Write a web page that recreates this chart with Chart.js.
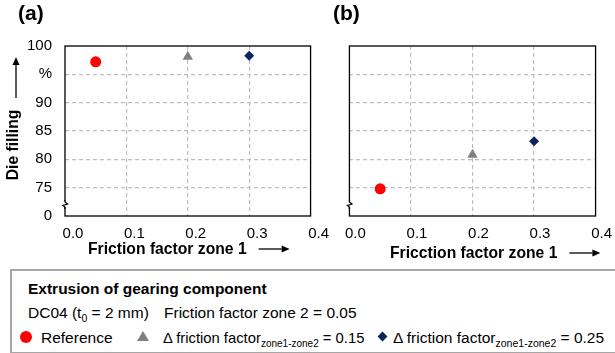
<!DOCTYPE html>
<html>
<head>
<meta charset="utf-8">
<script src="https://cdn.jsdelivr.net/npm/chart.js@4"></script>
<style>
  body { margin: 0; background: #fff; font-family: "Liberation Sans", Arial, sans-serif; color: #000; }
  #wrap { position: relative; width: 615px; height: 353px; overflow: hidden; }
  #ca { position: absolute; left: 0; top: 0; }
  #cb { position: absolute; left: 330px; top: 0; }
  #legend { position: absolute; left: 10px; top: 269px; width: 620px; height: 81px; border: 2px solid #a6a6a6; }
  .t { position: absolute; font-size: 15.5px; line-height: 16px; white-space: nowrap; }
  .s { font-size: 14.8px; }
  .s sub { font-size: 10px; }
  .b { font-weight: bold; }
  sub { font-size: 10.5px; vertical-align: -4px; line-height: 0; }
  .dot { position: absolute; width: 12px; height: 12px; border-radius: 50%; background: #ff0000; }
  .tri { position: absolute; width: 0; height: 0; border-left: 6px solid transparent; border-right: 6px solid transparent; border-bottom: 10px solid #808080; }
  .dia { position: absolute; width: 7px; height: 7px; background: #0b2560; transform: rotate(45deg); }
</style>
</head>
<body>
<div id="wrap">
  <canvas id="ca" width="330" height="265"></canvas>
  <canvas id="cb" width="285" height="265"></canvas>
  <div id="legend">
    <div class="t b" style="left:16px; top:10px;">Extrusion of gearing component</div>
    <div class="t" style="left:16px; top:34px;">DC04 (t<sub>0</sub> = 2 mm)</div>
    <div class="t" style="left:152px; top:34px;">Friction factor zone 2 = 0.05</div>
    <div class="dot" style="left:8px; top:60px;"></div>
    <div class="t" style="left:29px; top:59px;">Reference</div>
    <div class="tri" style="left:125px; top:60px;"></div>
    <div class="t s" style="left:151px; top:59px;">Δ friction factor<sub>zone1-zone2</sub> = 0.15</div>
    <div class="dia" style="left:367px; top:62px;"></div>
    <div class="t" style="left:381px; top:59px;">Δ friction factor<sub>zone1-zone2</sub> = 0.25</div>
  </div>
</div>
<script>
// friction factor zone 1 for each variant
const frictionZone1 = [0.05, 0.2, 0.3];
// die filling in %, panel (a) and (b)
const fillingA = [97.2, 98.1, 98.3];
const fillingB = [74.8, 80.8, 83.2];
const seriesNames = ["Reference", "Δ friction factor zone1-zone2 = 0.15", "Δ friction factor zone1-zone2 = 0.25"];
const seriesColors = ["#ff0000", "#808080", "#0b2560"];
const seriesStyles = ["circle", "triangle", "rectRot"];
const seriesSizes = [5.5, 6, 5];
// y axis is broken below 75, bottom tick shows "0", 95 shows the unit
const yTickValues = [70, 75, 80, 85, 90, 95, 100];
const yTickLabels = ["0", "75", "80", "85", "90", "%", "100"];
const xTickValues = [0, 0.1, 0.2, 0.3, 0.4];
const xTickLabels = ["0.0", "0.1", "0.2", "0.3", "0.4"];

const FONT = "Liberation Sans";

function makeDatasets(values) {
  return seriesNames.map((name, i) => ({
    label: name,
    data: [{ x: frictionZone1[i], y: values[i] }],
    pointStyle: seriesStyles[i],
    pointRadius: seriesSizes[i],
    pointHoverRadius: seriesSizes[i],
    backgroundColor: seriesColors[i],
    borderColor: seriesColors[i],
    borderWidth: 0,
    showLine: false,
  }));
}

function arrow(ctx, x1, y1, x2, y2) {
  const a = Math.atan2(y2 - y1, x2 - x1);
  const hl = 8, hw = 3.5;
  ctx.beginPath();
  ctx.moveTo(x1, y1);
  ctx.lineTo(x2 - Math.cos(a) * hl, y2 - Math.sin(a) * hl);
  ctx.lineWidth = 1.3;
  ctx.strokeStyle = "#000";
  ctx.stroke();
  ctx.beginPath();
  ctx.moveTo(x2, y2);
  ctx.lineTo(x2 - Math.cos(a) * hl - Math.sin(a) * hw, y2 - Math.sin(a) * hl + Math.cos(a) * hw);
  ctx.lineTo(x2 - Math.cos(a) * hl + Math.sin(a) * hw, y2 - Math.sin(a) * hl - Math.cos(a) * hw);
  ctx.closePath();
  ctx.fillStyle = "#000";
  ctx.fill();
}

// frame around plot area plus the axis break mark
const framePlugin = {
  id: "frame",
  beforeDatasetsDraw(chart) {
    const { ctx, chartArea: a } = chart;
    ctx.save();
    ctx.strokeStyle = "#000";
    ctx.lineWidth = 1.3;
    ctx.strokeRect(a.left, a.top, a.right - a.left, a.bottom - a.top);
    const bx = a.left, by = a.bottom - 12;
    ctx.fillStyle = "#fff";
    ctx.fillRect(bx - 3, by - 3, 6, 6);
    ctx.beginPath();
    ctx.moveTo(bx, by - 4);
    ctx.lineTo(bx, by - 2);
    ctx.lineTo(bx + 2.5, by);
    ctx.lineTo(bx - 2, by + 1.5);
    ctx.lineTo(bx, by + 3);
    ctx.lineTo(bx, by + 5);
    ctx.stroke();
    ctx.restore();
  },
};

const labelsPlugin = {
  id: "labels",
  afterDraw(chart) {
    const o = chart.options.plugins.labels;
    const ctx = chart.ctx;
    ctx.save();
    ctx.fillStyle = "#000";
    ctx.textBaseline = "middle";
    ctx.textAlign = "left";
    ctx.font = "bold 21px " + FONT;
    ctx.fillText(o.panel, o.panelX, 14);
    ctx.font = "bold 15.7px " + FONT;
    ctx.fillText(o.xTitle, o.xTitleX, o.xTitleY);
    const w = ctx.measureText(o.xTitle).width;
    arrow(ctx, o.xTitleX + w + 12, o.xTitleY - 1, o.xTitleX + w + 43, o.xTitleY - 1);
    if (o.yTitle) {
      ctx.save();
      ctx.translate(14, 145);
      ctx.rotate(-Math.PI / 2);
      ctx.textAlign = "center";
      ctx.fillText(o.yTitle, 0, 0);
      ctx.restore();
      arrow(ctx, 16, 98, 16, 57);
    }
    ctx.restore();
  },
};

function makeChart(id, values, opts) {
  return new Chart(document.getElementById(id), {
    type: "scatter",
    data: { datasets: makeDatasets(values) },
    plugins: [framePlugin, labelsPlugin],
    options: {
      responsive: false,
      animation: false,
      layout: { padding: { top: 46, right: opts.padRight, left: 0, bottom: 0 } },
      plugins: {
        legend: { display: false },
        tooltip: { enabled: false },
        labels: opts.labels,
      },
      scales: {
        x: {
          type: "linear",
          min: 0,
          max: 0.4,
          afterBuildTicks: (s) => { s.ticks = xTickValues.map((v) => ({ value: v })); },
          afterFit: (s) => { s.height = 49; },
          ticks: {
            callback: (v) => xTickLabels[xTickValues.findIndex((t) => Math.abs(t - v) < 1e-6)],
            font: { family: FONT, size: 15 },
            color: "#000",
            padding: 9,
            maxRotation: 0,
            labelOffset: opts.labelOffset,
          },
          grid: {
            drawTicks: false,
            color: (c) => (c.tick.value <= 0 || c.tick.value >= 0.4 ? "rgba(0,0,0,0)" : "#bfbfbf"),
            lineWidth: 1.2,
          },
          border: { display: false, dash: [4, 3] },
        },
        y: {
          min: 70,
          max: 100,
          afterBuildTicks: (s) => { s.ticks = yTickValues.map((v) => ({ value: v })); },
          afterFit: (s) => { s.width = opts.yWidth; },
          ticks: {
            display: opts.showY,
            callback: (v) => yTickLabels[yTickValues.indexOf(v)],
            font: { family: FONT, size: 15 },
            color: "#000",
            padding: 13,
          },
          grid: {
            drawTicks: false,
            color: (c) => (c.tick.value <= 70 || c.tick.value >= 100 ? "rgba(0,0,0,0)" : "#bfbfbf"),
            lineWidth: 1.2,
          },
          border: { display: false, dash: [4, 3] },
        },
      },
    },
  });
}

makeChart("ca", fillingA, {
  padRight: 11,
  yWidth: 65,
  showY: true,
  labelOffset: 8,
  labels: { panel: "(a)", panelX: 18, xTitle: "Friction factor zone 1", xTitleX: 88, xTitleY: 250, yTitle: "Die filling" },
});
makeChart("cb", fillingB, {
  padRight: 16,
  yWidth: 17,
  showY: false,
  labelOffset: 6,
  labels: { panel: "(b)", panelX: 3, xTitle: "Fricction factor zone 1", xTitleX: 60, xTitleY: 254 },
});
</script>
</body>
</html>
